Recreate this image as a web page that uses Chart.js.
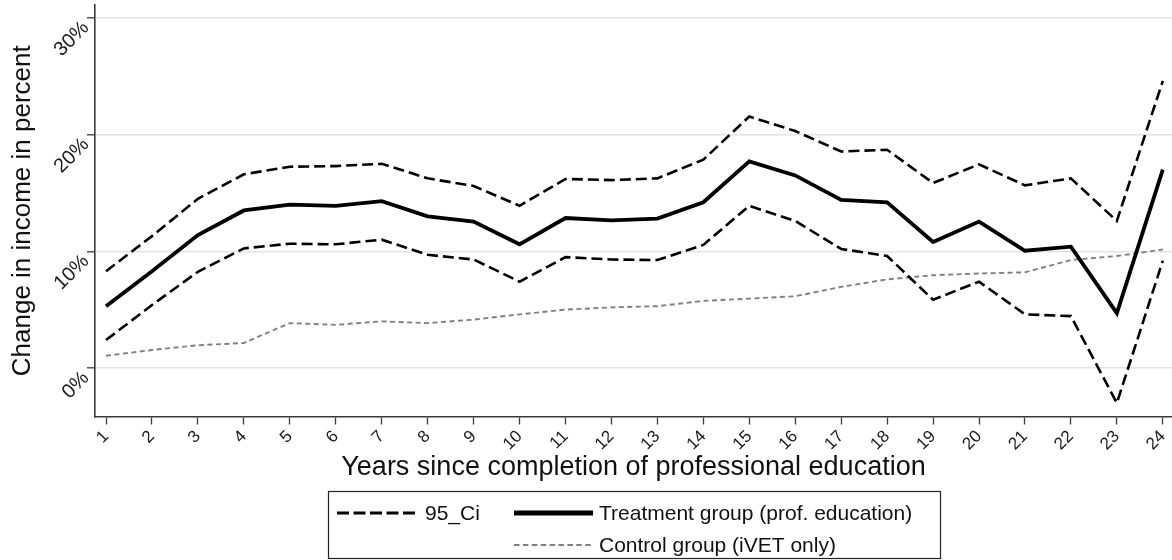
<!DOCTYPE html>
<html>
<head>
<meta charset="utf-8">
<script src="https://cdn.jsdelivr.net/npm/chart.js@4.4.1/dist/chart.umd.min.js"></script>
<style>
  html, body { margin: 0; padding: 0; background: #ffffff; }
  #wrap { width: 1172px; height: 560px; position: relative; }
</style>
</head>
<body>
<div id="wrap"><canvas id="c" width="1172" height="560"></canvas></div>
<script>
// Years since completion of professional education
const years = [1, 2, 3, 4, 5, 6, 7, 8, 9, 10, 11, 12, 13, 14, 15, 16, 17, 18, 19, 20, 21, 22, 23, 24];

// Change in income (percent)
const treatment = [5.3, 8.3, 11.4, 13.5, 14.0, 13.9, 14.3, 13.0, 12.55, 10.6, 12.85, 12.65, 12.8, 14.2, 17.7, 16.5, 14.4, 14.2, 10.8, 12.55, 10.05, 10.4, 4.7, 17.0];
const ciUpper = [8.3, 11.3, 14.5, 16.6, 17.25, 17.3, 17.5, 16.25, 15.6, 13.9, 16.2, 16.1, 16.25, 17.85, 21.55, 20.3, 18.55, 18.7, 15.85, 17.45, 15.65, 16.25, 12.6, 24.6];
const ciLower = [2.4, 5.4, 8.25, 10.25, 10.65, 10.6, 11.0, 9.7, 9.3, 7.4, 9.5, 9.3, 9.25, 10.55, 13.9, 12.6, 10.2, 9.6, 5.85, 7.4, 4.6, 4.45, -3.0, 9.2];
const control = [1.05, 1.55, 1.95, 2.15, 3.85, 3.7, 4.0, 3.85, 4.15, 4.6, 5.0, 5.2, 5.3, 5.75, 5.95, 6.15, 6.95, 7.6, 7.95, 8.1, 8.2, 9.25, 9.6, 10.15];

const yTicks = [0, 10, 20, 30];

const FONT = "'Liberation Sans', Arial, sans-serif";
const AXIS = '#3a3a3a';

const pts = arr => years.map((x, i) => ({ x: x, y: arr[i] }));

const datasets = [
  { label: 'Treatment group (prof. education)', data: pts(treatment), borderColor: '#000', borderWidth: 3.8, borderDash: [] },
  { label: '95_Ci', data: pts(ciUpper), borderColor: '#000', borderWidth: 2.6, borderDash: [11, 5] },
  { label: '95_Ci', data: pts(ciLower), borderColor: '#000', borderWidth: 2.6, borderDash: [11, 5] },
  { label: 'Control group (iVET only)', data: pts(control), borderColor: '#808080', borderWidth: 1.9, borderDash: [5, 3.5] }
].map(d => Object.assign(d, { fill: false, pointRadius: 0, tension: 0, borderJoinStyle: 'miter', borderCapStyle: 'butt' }));

// Boxed legend in two columns under the axis title
const boxLegend = {
  id: 'boxLegend',
  afterDraw(chart) {
    const ctx = chart.ctx;
    const ds = chart.data.datasets;
    const entries = [
      { d: ds[1], col: 0, row: 0, dash: [12, 4.5] },
      { d: ds[0], col: 1, row: 0, dash: [] },
      { d: ds[3], col: 1, row: 1, dash: [5.5, 3.4] }
    ];
    const box = { x: 328.5, y: 491.5, w: 612, h: 67 };
    ctx.save();
    ctx.strokeStyle = '#222';
    ctx.lineWidth = 1.2;
    ctx.strokeRect(box.x, box.y, box.w, box.h);
    const cols = [{ x0: 337, x1: 415, tx: 425 }, { x0: 514, x1: 593, tx: 599 }];
    const rows = [513, 545];
    ctx.font = '21px ' + FONT;
    ctx.textBaseline = 'middle';
    ctx.textAlign = 'left';
    entries.forEach(e => {
      const c = cols[e.col], y = rows[e.row];
      ctx.beginPath();
      ctx.setLineDash(e.dash);
      ctx.lineWidth = e.d.borderWidth + (e.col === 1 && e.row === 0 ? 1 : 0.3);
      ctx.strokeStyle = e.d.borderColor;
      ctx.moveTo(c.x0, y);
      ctx.lineTo(c.x1, y);
      ctx.stroke();
      ctx.setLineDash([]);
      ctx.fillStyle = '#111';
      ctx.fillText(e.d.label, c.tx, y + 1);
    });
    ctx.restore();
  }
};

new Chart(document.getElementById('c'), {
  type: 'line',
  data: { datasets: datasets },
  plugins: [boxLegend],
  options: {
    responsive: false,
    animation: false,
    devicePixelRatio: 1,
    layout: { padding: { left: 7, right: 0, top: 5, bottom: 76 } },
    plugins: { legend: { display: false }, tooltip: { enabled: false } },
    scales: {
      x: {
        type: 'linear',
        min: 0.76,
        max: 24.2,
        afterBuildTicks: s => { s.ticks = years.map(v => ({ value: v })); },
        afterFit: s => { s.height = 67.5; s.paddingLeft = 0; s.paddingRight = 0; },
        grid: { display: true, drawOnChartArea: false, drawTicks: true, tickLength: 8, tickColor: AXIS, tickWidth: 1.3 },
        border: { display: true, color: AXIS, width: 1.6 },
        ticks: { minRotation: 45, maxRotation: 45, autoSkip: false, padding: 2, color: '#1a1a1a', font: { family: FONT, size: 17 }, callback: v => String(v) },
        title: { display: true, text: 'Years since completion of professional education', color: '#111', font: { family: FONT, size: 27 }, padding: { top: 0, bottom: 0 } }
      },
      y: {
        min: -4.15,
        max: 31.1,
        afterBuildTicks: s => { s.ticks = yTicks.map(v => ({ value: v })); },
        afterFit: s => { s.width = 88; s.paddingTop = 0; s.paddingBottom = 0; },
        grid: { color: '#e3e3e3', lineWidth: 1.6, drawTicks: true, tickLength: 8, tickColor: AXIS, tickWidth: 1.3 },
        border: { display: true, color: AXIS, width: 1.6 },
        ticks: { minRotation: 45, maxRotation: 45, padding: 1, labelOffset: 7, color: '#1a1a1a', font: { family: FONT, size: 20 }, callback: v => v + '%' },
        title: { display: true, text: 'Change in income in percent', color: '#111', font: { family: FONT, size: 26 }, padding: { top: 0, bottom: 0 } }
      }
    }
  }
});
</script>
</body>
</html>
